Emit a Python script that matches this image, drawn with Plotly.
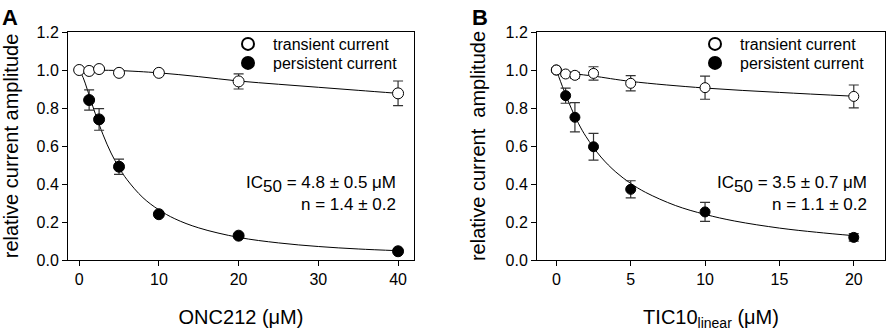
import plotly.graph_objects as go

# ---------------- Data ----------------
# Panel A: ONC212
a_x = [0, 1.25, 2.5, 5, 10, 20, 40]
a_trans = [1.0, 0.995, 1.005, 0.985, 0.985, 0.94, 0.877]
a_trans_err = [0.0, 0.008, 0.008, 0.008, 0.012, 0.04, 0.065]
a_pers_x = [1.25, 2.5, 5, 10, 20, 40]
a_pers = [0.842, 0.74, 0.491, 0.241, 0.128, 0.046]
a_pers_err = [0.053, 0.057, 0.04, 0.01, 0.01, 0.01]
# fitted curves
a_fit_x = [0, 0.5, 1, 1.5, 2, 3, 4, 5, 6, 8, 10, 12, 15, 20, 25, 30, 35, 40]
a_fit_pers = [1.0, 0.96, 0.90, 0.836, 0.773, 0.659, 0.563, 0.486, 0.423, 0.328,
              0.264, 0.217, 0.169, 0.119, 0.090, 0.071, 0.058, 0.049]
a_fit_tx = [0, 2.5, 5, 10, 15, 20, 25, 30, 35, 40]
a_fit_trans = [1.0, 0.999, 0.997, 0.985, 0.965, 0.942, 0.925, 0.909, 0.893, 0.877]

# Panel B: TIC10 linear
b_x = [0, 0.625, 1.25, 2.5, 5, 10, 20]
b_trans = [1.0, 0.979, 0.972, 0.982, 0.93, 0.907, 0.861]
b_trans_err = [0.0, 0.01, 0.015, 0.035, 0.04, 0.061, 0.06]
b_pers = [1.0, 0.865, 0.751, 0.596, 0.372, 0.253, 0.119]
b_pers_err = [0.0, 0.04, 0.077, 0.07, 0.045, 0.05, 0.02]
b_fit_x = [0, 0.5, 1, 1.5, 2, 3, 4, 5, 6, 8, 10, 12, 15, 17.5, 20]
b_fit_pers = [1.0, 0.895, 0.799, 0.717, 0.649, 0.542, 0.463, 0.403, 0.356,
              0.287, 0.240, 0.205, 0.168, 0.146, 0.128]
b_fit_tx = [0, 0.5, 1.25, 2.5, 5, 10, 15, 20]
b_fit_trans = [1.0, 0.99, 0.98, 0.968, 0.94, 0.905, 0.882, 0.862]

a_ticks = [0, 10, 20, 30, 40]
b_ticks = [0, 5, 10, 15, 20]
y_ticks = [0.0, 0.2, 0.4, 0.6, 0.8, 1.0, 1.2]

FONT = "Liberation Sans, Arial, sans-serif"
ERRC = "#333333"

fig = go.Figure()

def add_panel(xa, ya, leg_t, leg_p, fx_p, fy_p, fx_t, fy_t,
              tx, ty, terr, px, py, perr, msize):
    fig.add_trace(go.Scatter(x=fx_t, y=fy_t, mode="lines", line=dict(color="black", width=1),
                             line_shape="spline", showlegend=False, xaxis=xa, yaxis=ya,
                             hoverinfo="skip"))
    fig.add_trace(go.Scatter(x=fx_p, y=fy_p, mode="lines", line=dict(color="black", width=1),
                             line_shape="spline", showlegend=False, xaxis=xa, yaxis=ya,
                             hoverinfo="skip"))
    fig.add_trace(go.Scatter(x=px, y=py, mode="markers", name="persistent current",
                             marker=dict(color="black", size=msize, line=dict(color="black", width=1)),
                             error_y=dict(type="data", array=perr, color=ERRC, thickness=1.2, width=5),
                             xaxis=xa, yaxis=ya, legend=leg_p))
    fig.add_trace(go.Scatter(x=tx, y=ty, mode="markers", name="transient current",
                             marker=dict(color="white", size=msize, line=dict(color="black", width=1)),
                             error_y=dict(type="data", array=terr, color=ERRC, thickness=1.2, width=5),
                             xaxis=xa, yaxis=ya, legend=leg_t))

add_panel("x", "y", "legend", "legend3", a_fit_x, a_fit_pers, a_fit_tx, a_fit_trans,
          a_x, a_trans, a_trans_err, a_pers_x, a_pers, a_pers_err, 11)
add_panel("x2", "y2", "legend2", "legend4", b_fit_x, b_fit_pers, b_fit_tx, b_fit_trans,
          b_x, b_trans, b_trans_err, b_x, b_pers, b_pers_err, 10)

W, H = 886, 335
yd = [1 - 260 / H, 1 - 32 / H]
axis_common = dict(showline=True, linecolor="black", linewidth=1, mirror=True,
                   ticks="outside", ticklen=5, tickcolor="black", showgrid=False,
                   zeroline=False, automargin=False,
                   tickfont=dict(size=16, color="black", family=FONT))

legend_common = dict(font=dict(size=16, color="black", family=FONT), bgcolor="rgba(0,0,0,0)",
                     itemsizing="constant", itemwidth=40, xanchor="left", yanchor="middle")

SUB = '<sub><span style="font-size:17px">50</span></sub>'

fig.update_layout(
    width=W, height=H, margin=dict(l=0, r=0, t=0, b=0, autoexpand=False),
    paper_bgcolor="white", plot_bgcolor="white",
    font=dict(family=FONT, color="black"),
    xaxis=dict(domain=[68 / W, 414 / W], range=[-1.4, 42], tickvals=a_ticks,
               title=dict(text="ONC212 (μM)", font=dict(size=20), standoff=22),
               anchor="y", **axis_common),
    yaxis=dict(domain=yd, range=[0, 1.2], tickvals=y_ticks, tickformat=".1f",
               title=dict(text="relative current amplitude", font=dict(size=20), standoff=13),
               anchor="x", **axis_common),
    xaxis2=dict(domain=[537 / W, 885 / W], range=[-1.3, 22.1], tickvals=b_ticks,
                title=dict(text="TIC10<sub>linear</sub> (μM)", font=dict(size=20), standoff=22),
                anchor="y2", **axis_common),
    yaxis2=dict(domain=yd, range=[0, 1.2], tickvals=y_ticks, tickformat=".1f",
                title=dict(text="relative current  amplitude", font=dict(size=20), standoff=14),
                anchor="x2", **axis_common),
    legend=dict(x=223 / W, y=1 - 44 / H, **legend_common),
    legend3=dict(x=223 / W, y=1 - 63 / H, **legend_common),
    legend2=dict(x=690 / W, y=1 - 44 / H, **legend_common),
    legend4=dict(x=690 / W, y=1 - 63 / H, **legend_common),
    showlegend=True,
)

anns = [
    dict(text="<b>A</b>", x=0 / W, y=1 - 3 / H, xanchor="left", yanchor="top", font=dict(size=22)),
    dict(text="<b>B</b>", x=470 / W, y=1 - 3 / H, xanchor="left", yanchor="top", font=dict(size=22)),
    dict(text="IC" + SUB + " = 4.8 ± 0.5 μM", x=398 / W, y=1 - 184 / H, xanchor="right", yanchor="middle", font=dict(size=17)),
    dict(text="n = 1.4 ± 0.2", x=398 / W, y=1 - 204 / H, xanchor="right", yanchor="middle", font=dict(size=17)),
    dict(text="IC" + SUB + " = 3.5 ± 0.7 μM", x=869 / W, y=1 - 184 / H, xanchor="right", yanchor="middle", font=dict(size=17)),
    dict(text="n = 1.1 ± 0.2", x=869 / W, y=1 - 204 / H, xanchor="right", yanchor="middle", font=dict(size=17)),
]
for a in anns:
    fig.add_annotation(xref="paper", yref="paper", showarrow=False, **a)

fig.write_html("out.html", config={"displayModeBar": False},
               post_script="document.body.style.margin='0';document.body.style.padding='0';")
